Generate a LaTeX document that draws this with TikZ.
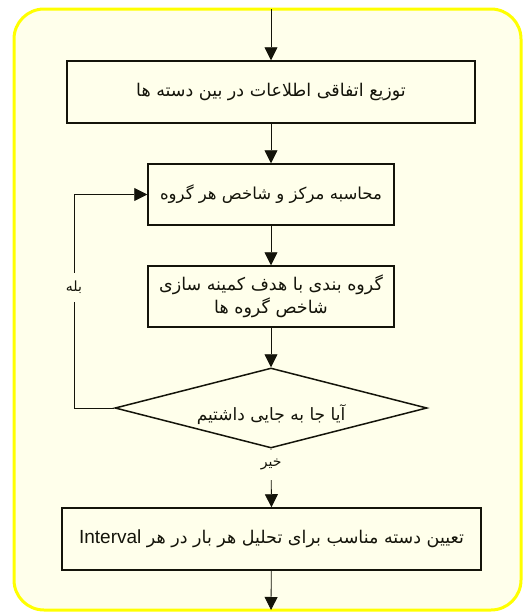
\documentclass[tikz,border=0pt]{standalone}
\usepackage{fontspec}
\usetikzlibrary{shapes.geometric,arrows.meta}
\TeXXeTstate=1
\newfontfamily\arabicfont[Script=Arabic]{DejaVu Sans}
\newfontfamily\latinfont{Liberation Sans}
\definecolor{bg}{RGB}{255,255,235}
\definecolor{framey}{RGB}{255,255,0}
\definecolor{ink}{RGB}{20,20,10}
\tikzset{
  stepbox/.style={draw=ink, line width=1.5pt, inner sep=0pt, text=ink,
    font=\arabicfont\fontsize{17.5}{23}\selectfont, align=center},
  decision/.style={diamond, draw=ink, line width=1.5pt, inner sep=0pt,
    minimum width=312pt, minimum height=80pt, aspect=3.9},
  arr/.style={draw=ink, line width=0.8pt, -{Triangle[width=13pt,length=13pt]}},
  lbl/.style={fill=bg, text=ink, font=\arabicfont\fontsize{14}{16}\selectfont, inner sep=1pt}
}
\begin{document}
\begin{tikzpicture}[x=1pt,y=-1pt]
\useasboundingbox (0,0) rectangle (524,614);
\draw[framey, line width=3pt, fill=bg, rounded corners=30pt] (14,9) rectangle (521,610);

\node[stepbox, minimum width=408pt, minimum height=62pt] (b1) at (271,92)
  {\beginR توزیع اتفاقی اطلاعات در بین دسته ها\endR};
\node[stepbox, minimum width=246pt, minimum height=61pt, font=\arabicfont\fontsize{16.5}{22}\selectfont] (b2) at (271,194.5)
  {\beginR محاسبه مرکز و شاخص هر گروه\endR};
\node[stepbox, minimum width=246pt, minimum height=61pt] (b3) at (271,296.5)
  {\beginR گروه بندی با هدف کمینه سازی\endR\\\beginR شاخص گروه ها\endR};
\node[decision] (d) at (271,408) {};
\node[text=ink, font=\arabicfont\fontsize{17}{19}\selectfont] (dt) at (271,415)
  {\beginR آیا جا به جایی داشتیم\endR};
\node[stepbox, minimum width=419pt, minimum height=62pt] (b4) at (271.5,539)
  {\beginR تعیین دسته مناسب برای تحلیل هر بار در هر \beginL{\latinfont\fontsize{19}{21}\selectfont Interval}\endL\endR};

\coordinate (top) at (271,9);
\coordinate (bot) at (271,610);
\coordinate (lp) at (74,0);

\draw[arr] (top) -- (b1);
\draw[arr] (b1) -- (b2);
\draw[arr] (b2) -- (b3);
\draw[arr] (b3) -- (d);
\draw[arr] (d.south) -- node[lbl, pos=0.27, minimum height=30pt] {\beginR خیر\endR} (b4.north);
\draw[arr] (d.west) -- (d.west -| lp) -- node[lbl, pos=0.566, minimum height=29pt] {\beginR بله\endR} (b2.west -| lp) -- (b2.west);
\draw[arr] (b4) -- (bot);
\end{tikzpicture}
\end{document}
